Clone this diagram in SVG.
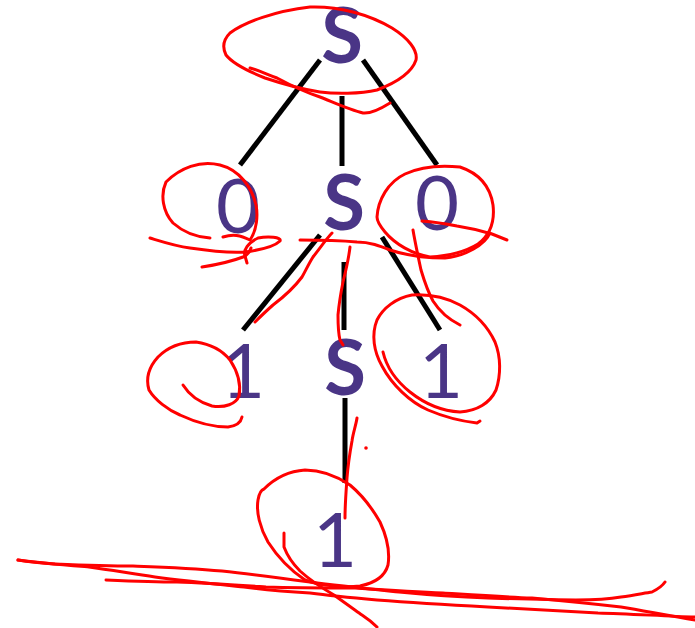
<svg xmlns="http://www.w3.org/2000/svg" width="695" height="628" viewBox="0 0 695 628">
<style>
.t{font-family:Lato,"Open Sans","Liberation Sans",sans-serif;fill:#4a3586;text-anchor:middle;font-size:76px}
.b{font-weight:bold}
.e{stroke:#000;stroke-width:5;fill:none}
.r{stroke:#ff0000;stroke-width:3;fill:none;stroke-linecap:round;stroke-linejoin:round}
</style>
<rect width="695" height="628" fill="#fff"/>
<g id="edges">
<line class="e" x1="320" y1="60" x2="240" y2="165"/>
<line class="e" x1="342" y1="96" x2="342" y2="166"/>
<line class="e" x1="363" y1="60" x2="437" y2="165"/>
<line class="e" x1="320" y1="235" x2="243" y2="330"/>
<line class="e" x1="344" y1="262" x2="344" y2="330"/>
<line class="e" x1="382" y1="237" x2="440" y2="330"/>
<line class="e" x1="345" y1="398" x2="345" y2="483"/>
</g>
<g id="n-s1"><text class="t b" x="342" y="63">S</text></g>
<g id="n-0a"><text class="t" x="238" y="233">0</text></g>
<g id="n-s2"><text class="t b" x="344" y="230">S</text></g>
<g id="n-0b"><text class="t" x="437" y="230">0</text></g>
<g id="n-1a"><text class="t" x="243" y="398">1</text></g>
<g id="n-s3"><text class="t b" x="345" y="395">S</text></g>
<g id="n-1b"><text class="t" x="441" y="398">1</text></g>
<g id="n-1c"><text class="t" x="335" y="567">1</text></g>
<g id="ink">
<path class="r" d="M230,33 C245,22 275,11 310,7 C340,6 370,15 392,28 C408,38 418,50 416,60 C412,72 398,82 377,90 C360,94 335,94 320,92 C300,89 280,83 265,78 C250,72 233,64 226,55 C222,47 224,39 230,33 Z"/>
<path class="r" d="M250,68 C258,70 266,74 277,78 C290,85 305,92 320,97 C335,103 350,110 363,113 C372,114 382,108 390,103"/>
<path class="r" d="M223,237 C233,234 240,235 250,240 C257,230 258,215 256,205 C252,188 240,170 220,165 C200,160 180,168 166,182 C160,195 163,212 173,223 C182,231 195,237 210,238"/>
<path class="r" d="M150,238 C160,241 175,246 190,248 C210,251 230,253 245,252 C260,250 275,246 280,241 C282,237 268,236 258,238 C248,243 243,250 245,256 L247,263"/>
<path class="r" d="M202,267 C215,265 230,262 243,257 C248,255 250,251 251,248"/>
<path class="r" d="M377,217 C378,200 388,182 405,174 C420,167 440,165 460,167 C478,173 490,185 493,205 C495,222 490,235 478,244 C465,252 448,256 430,257 C412,254 395,244 385,232 C380,226 377,221 377,217 Z"/>
<path class="r" d="M422,221 C435,222 447,224 457,226 C470,228 482,231 492,234 L507,240"/>
<path class="r" d="M300,240 C315,240 335,240 357,242 C370,242 380,246 390,250 C405,255 425,258 445,258 C465,256 485,245 490,233"/>
<path class="r" d="M332,233 C327,238 320,248 313,257 C308,265 305,272 302,277 C296,285 285,296 273,305 C265,312 259,318 255,322"/>
<path class="r" d="M350,247 C349,256 346,270 343,282 C341,292 339,304 338,315 C338,326 339,336 340,340 L343,345"/>
<path class="r" d="M413,230 C415,242 418,256 421,270 C424,280 428,292 433,301 C440,312 450,320 460,325"/>
<path class="r" d="M183,385 C188,393 198,402 212,406 C225,408 236,404 239,396 C241,385 238,372 230,360 C222,350 210,344 196,342 C182,342 168,347 158,357 C148,368 146,380 149,390 C155,400 168,410 180,415 C195,422 212,427 228,427 C236,426 241,422 242,417"/>
<path class="r" d="M383,352 C386,365 395,380 410,392 C425,404 442,411 460,412 C477,411 490,403 496,390 C501,375 501,357 495,342 C488,327 476,314 460,305 C445,297 428,294 412,295 C396,298 383,308 377,320 C371,335 374,352 382,366 C392,385 410,402 428,410 C442,416 460,421 477,423 L480,421"/>
<path class="r" d="M357,418 C356,425 353,433 352,441 C350,452 348,465 347,478 C346,492 345,505 345,518"/>
<circle cx="366" cy="448" r="1.8" fill="#ff0000"/>
<path class="r" d="M264,489 C275,478 290,471 305,470 C320,470 335,475 350,485 C362,495 372,508 380,522 C387,537 390,552 388,565 C385,576 375,583 360,586 C340,588 318,585 305,580 C290,570 277,556 268,542 C260,528 256,512 258,500 C259,494 261,490 264,489"/>
<path class="r" d="M284,533 L284,547 C287,555 292,563 300,571 C310,580 322,588 334,595 C345,603 355,610 362,615 C368,619 373,623 377,627"/>
<path class="r" d="M18,560 C30,562 40,563 55,564 C80,565 110,566 133,566 C160,567 190,568 222,571 C250,574 280,578 310,582 C340,586 370,589 399,592 C430,595 460,597 488,598 C520,599 550,600 576,600 C595,600 610,599 621,597 C635,595 645,593 652,592 C658,589 663,585 665,582"/>
<path class="r" d="M106,580 C130,581 155,582 177,582 C205,583 235,585 266,587 C295,588 325,588 355,588 C385,590 415,592 443,593 C475,595 505,597 532,598 C565,601 595,604 621,607 C645,611 670,616 695,620"/>
<path class="r" d="M18,560 C40,563 65,565 89,567 C112,570 133,574 155,577 C185,581 215,584 244,587 C265,590 290,592 310,593 C333,596 355,598 377,600 C415,603 450,605 488,607 C525,609 562,611 598,613 C630,614 665,616 695,617"/>
</g>
</svg>
